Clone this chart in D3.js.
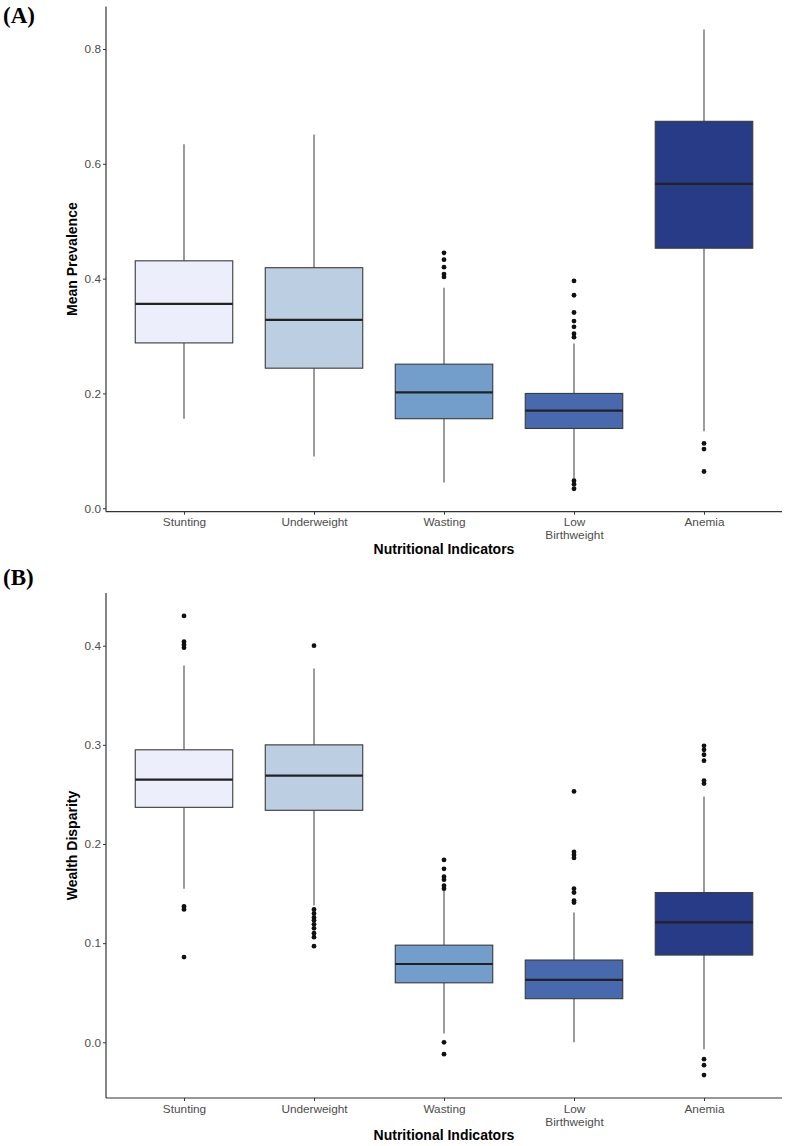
<!DOCTYPE html>
<html>
<head>
<meta charset="utf-8">
<script src="https://cdn.jsdelivr.net/npm/d3@7"></script>
<style>
  html, body { margin: 0; padding: 0; background: #ffffff; }
  svg { display: block; }
</style>
</head>
<body>
<svg id="chart" width="789" height="1146"></svg>
<script>
// ---------- DATA ----------
const categories = ["Stunting", "Underweight", "Wasting", "Low Birthweight", "Anemia"];
const categoryLabels = [["Stunting"], ["Underweight"], ["Wasting"], ["Low", "Birthweight"], ["Anemia"]];
const fillColors = ["#eceefc", "#bccee1", "#739ecc", "#4869ad", "#283b87"];

// Panel A: Mean Prevalence  [lower whisker, Q1, median, Q3, upper whisker]
const prevalenceStats = [
  [0.156, 0.288, 0.356, 0.431, 0.634],
  [0.090, 0.244, 0.328, 0.419, 0.651],
  [0.045, 0.156, 0.202, 0.251, 0.384],
  [0.052, 0.139, 0.170, 0.200, 0.287],
  [0.134, 0.453, 0.565, 0.674, 0.834]
];
const prevalenceOutliers = [
  [],
  [],
  [0.445, 0.433, 0.420, 0.408, 0.403],
  [0.396, 0.371, 0.341, 0.326, 0.316, 0.304, 0.298, 0.048, 0.042, 0.034],
  [0.113, 0.103, 0.064]
];
const prevalenceTicks = [0.0, 0.2, 0.4, 0.6, 0.8];

// Panel B: Wealth Disparity
const disparityStats = [
  [0.155, 0.237, 0.265, 0.295, 0.380],
  [0.138, 0.234, 0.269, 0.300, 0.377],
  [0.009, 0.060, 0.079, 0.098, 0.153],
  [0.000, 0.044, 0.063, 0.083, 0.131],
  [-0.007, 0.088, 0.121, 0.151, 0.248]
];
const disparityOutliers = [
  [0.430, 0.404, 0.401, 0.398, 0.137, 0.134, 0.086],
  [0.400, 0.134, 0.130, 0.126, 0.123, 0.119, 0.115, 0.110, 0.106, 0.097],
  [0.184, 0.175, 0.167, 0.164, 0.158, 0.155, 0.000, -0.012],
  [0.253, 0.192, 0.189, 0.186, 0.155, 0.151, 0.143, 0.141],
  [0.299, 0.295, 0.290, 0.284, 0.264, 0.261, -0.017, -0.023, -0.033]
];
const disparityTicks = [0.0, 0.1, 0.2, 0.3, 0.4];

// ---------- DRAW ----------
const svg = d3.select("#chart");
const tickColor = "#4d4d4d";
const axisColor = "#333333";
const sansFont = "'Liberation Sans', Arial, Helvetica, sans-serif";

function drawPanel(opts) {
  const { top, bottom, left, right, stats, outliers, ticks, yTitle, panelLabel, labelY } = opts;
  const g = svg.append("g");

  const x = d3.scalePoint().domain(categories).range([left, right]).padding(0.6);
  const boxW = x.step() * 0.75;

  const allVals = stats.flat().concat(outliers.flat());
  const lo = d3.min(allVals), hi = d3.max(allVals);
  const pad = (hi - lo) * 0.05;
  const y = d3.scaleLinear().domain([lo - pad, hi + pad]).range([bottom, top]);

  // panel label
  svg.append("text")
    .attr("x", 3).attr("y", labelY)
    .attr("font-family", "'Liberation Serif', 'Times New Roman', serif")
    .attr("font-weight", "bold")
    .attr("font-size", 23)
    .attr("fill", "#000")
    .text(panelLabel);

  // boxes
  categories.forEach((c, i) => {
    const [wLo, q1, med, q3, wHi] = stats[i];
    const cx = x(c);
    g.append("line").attr("x1", cx).attr("x2", cx).attr("y1", y(q3)).attr("y2", y(wHi))
      .attr("stroke", "#4a4a4a").attr("stroke-width", 1.1);
    g.append("line").attr("x1", cx).attr("x2", cx).attr("y1", y(q1)).attr("y2", y(wLo))
      .attr("stroke", "#4a4a4a").attr("stroke-width", 1.1);
    g.append("rect")
      .attr("x", cx - boxW / 2).attr("width", boxW)
      .attr("y", y(q3)).attr("height", y(q1) - y(q3))
      .attr("fill", fillColors[i])
      .attr("stroke", "#3a3a3a").attr("stroke-width", 1.1);
    g.append("line").attr("x1", cx - boxW / 2).attr("x2", cx + boxW / 2)
      .attr("y1", y(med)).attr("y2", y(med))
      .attr("stroke", "#222").attr("stroke-width", 2.2);
    g.selectAll(null).data(outliers[i]).enter().append("circle")
      .attr("cx", cx).attr("cy", d => y(d)).attr("r", 2.4)
      .attr("fill", "#111");
  });

  // y axis
  const yAxis = d3.axisLeft(y).tickValues(ticks).tickFormat(d3.format(".1f")).tickSize(3).tickPadding(2);
  const ya = svg.append("g").attr("transform", `translate(${left},0)`).call(yAxis);
  ya.select(".domain").attr("stroke", axisColor).attr("stroke-width", 1.2).attr("d", `M0,${top}V${bottom}`);
  ya.selectAll(".tick line").attr("stroke", axisColor).attr("stroke-width", 1);
  ya.selectAll(".tick text").attr("fill", tickColor).attr("font-size", 11.8).attr("font-family", sansFont);

  // x axis
  const xAxis = d3.axisBottom(x).tickSize(3).tickFormat("");
  const xa = svg.append("g").attr("transform", `translate(0,${bottom})`).call(xAxis);
  xa.select(".domain").attr("stroke", axisColor).attr("stroke-width", 1.2).attr("d", `M${left},0H${right}`);
  xa.selectAll(".tick line").attr("stroke", axisColor).attr("stroke-width", 1);
  xa.selectAll(".tick").each(function(d, i) {
    const t = d3.select(this).append("text")
      .attr("fill", tickColor).attr("font-size", 11.8).attr("font-family", sansFont)
      .attr("text-anchor", "middle");
    categoryLabels[i].forEach((line, j) => {
      t.append("tspan").attr("x", 0).attr("y", 14.5 + j * 13).text(line);
    });
  });

  // axis titles
  svg.append("text")
    .attr("transform", `translate(${left - 29},${(top + bottom) / 2}) rotate(-90)`)
    .attr("text-anchor", "middle")
    .attr("font-family", sansFont).attr("font-weight", "bold").attr("font-size", 14)
    .attr("fill", "#000")
    .text(yTitle);
  svg.append("text")
    .attr("x", (left + right) / 2).attr("y", bottom + 42)
    .attr("text-anchor", "middle")
    .attr("font-family", sansFont).attr("font-weight", "bold").attr("font-size", 14)
    .attr("fill", "#000")
    .text("Nutritional Indicators");
}

drawPanel({
  top: 6.5, bottom: 511.7, left: 106, right: 782,
  stats: prevalenceStats, outliers: prevalenceOutliers, ticks: prevalenceTicks,
  yTitle: "Mean Prevalence", panelLabel: "(A)", labelY: 23
});
drawPanel({
  top: 593, bottom: 1098, left: 106, right: 782,
  stats: disparityStats, outliers: disparityOutliers, ticks: disparityTicks,
  yTitle: "Wealth Disparity", panelLabel: "(B)", labelY: 585
});
</script>
</body>
</html>
